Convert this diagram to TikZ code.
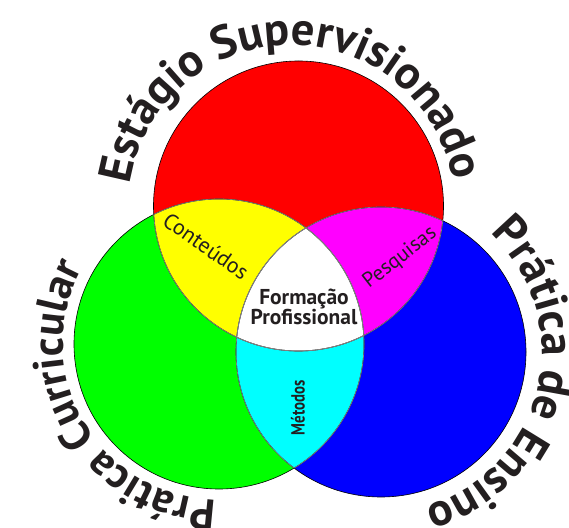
\documentclass[tikz,border=0pt]{standalone}
\usepackage{fontspec}
\setmainfont{PT Sans}
\usetikzlibrary{decorations.text}
\definecolor{ink}{RGB}{35,31,32}
\definecolor{innerline}{RGB}{128,128,128}
\definecolor{cRed}{RGB}{255,0,0}
\definecolor{cGreen}{RGB}{0,255,0}
\definecolor{cBlue}{RGB}{0,0,255}
\definecolor{cYellow}{RGB}{255,255,0}
\definecolor{cMagenta}{RGB}{255,0,255}
\definecolor{cCyan}{RGB}{0,255,255}
\newcommand\arcfont{\fontsize{46.5}{46.5}\selectfont\bfseries\color{ink}}
\newcommand\arcfontG{\fontsize{43.5}{43.5}\selectfont\bfseries\color{ink}}
\tikzset{
  ring/.style={line width=0.6pt, draw=black},
  innerring/.style={line width=0.7pt, draw=innerline},
  lbl/.style={text=ink, inner sep=0pt},
}
\begin{document}
\begin{tikzpicture}[x=1pt,y=1pt]
\useasboundingbox (0,0) rectangle (569,527);
\fill[white] (0,0) rectangle (569,527);
\def\rad{145}
\coordinate (R) at (298.5,321);
\coordinate (G) at (219,183);
\coordinate (B) at (381,175);
\coordinate (TR) at (291.7,318);
% base fills
\fill[cRed] (R) circle (\rad);
\fill[cGreen] (G) circle (\rad);
\fill[cBlue] (B) circle (\rad);
\begin{scope}
  \clip (R) circle (\rad);
  \fill[cYellow] (G) circle (\rad);
  \fill[cMagenta] (B) circle (\rad);
\end{scope}
\begin{scope}
  \clip (G) circle (\rad);
  \fill[cCyan] (B) circle (\rad);
\end{scope}
\begin{scope}
  \clip (R) circle (\rad);
  \clip (G) circle (\rad);
  \fill[white] (B) circle (\rad);
\end{scope}
% outlines
\draw[ring] (R) circle (\rad) (G) circle (\rad) (B) circle (\rad);
\begin{scope}
  \clip (R) circle (\rad);
  \draw[innerring] (G) circle (\rad) (B) circle (\rad);
\end{scope}
\begin{scope}
  \clip (G) circle (\rad);
  \draw[innerring] (R) circle (\rad) (B) circle (\rad);
\end{scope}
\begin{scope}
  \clip (B) circle (\rad);
  \draw[innerring] (R) circle (\rad) (G) circle (\rad);
\end{scope}
% inner labels
\node[lbl, font=\bfseries\fontsize{21.5}{20.5}\selectfont, align=center] (fp) at (304,220) {Formação\\Profissional};
\node[lbl, font=\fontsize{22}{22}\selectfont, rotate=-35] (ct) at (206,281) {Conteúdos};
\node[lbl, font=\fontsize{21}{21}\selectfont, rotate=38] (pq) at (400,269) {Pesquisas};
\node[lbl, font=\bfseries\fontsize{19}{19}\selectfont, rotate=90, xscale=0.78] (mt) at (298,119) {Métodos};
% curved outer labels
\path[decorate, decoration={text along path, text align=center,
  text={|\arcfont|Estágio Supervisionado}}]
  (TR) ++(190.7:164) arc[start angle=190.7, end angle=-9.3, radius=164];
\path[decorate, decoration={text along path, text align=center,
  text={|\arcfontG|Prática Curricular}}]
  (G) ++(290:156) arc[start angle=290, end angle=130, radius=156];
\path[decorate, decoration={text along path, text align=center,
  text={|\arcfont|Prática de Ensino}}]
  (B) ++(76.65:161) arc[start angle=76.65, end angle=-103.35, radius=161];
\end{tikzpicture}
\end{document}
